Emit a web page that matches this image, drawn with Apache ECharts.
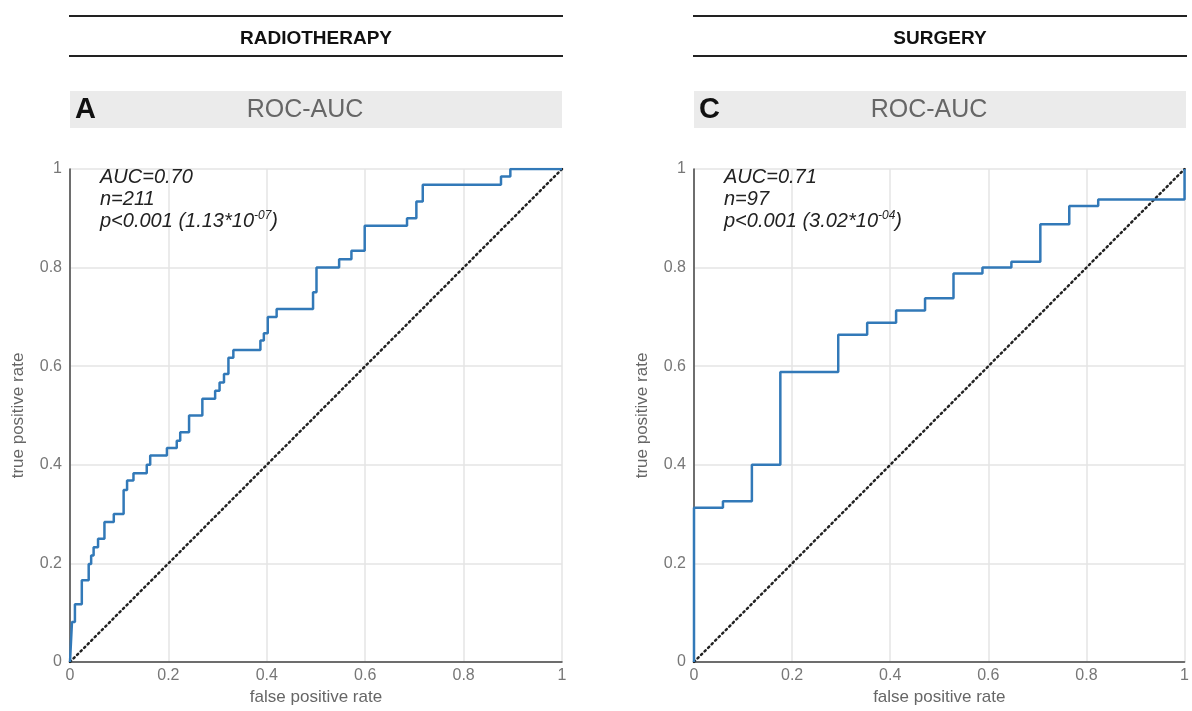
<!DOCTYPE html>
<html lang="en">
<head>
    <meta charset="UTF-8">
    <title>ROC-AUC</title>
    <style>
        html, body { margin: 0; padding: 0; background: #fff; }
        #container { width: 1192px; height: 711px; }
    </style>
</head>
<body>
    <div id="container"></div>
    <script src="https://cdn.jsdelivr.net/npm/echarts@6/dist/echarts.min.js"></script>
    <script>
        // ROC points (false positive rate / true positive rate)
        const radioFpr = [0, 0.004, 0.010, 0.024, 0.038, 0.043, 0.048, 0.057, 0.070, 0.089, 0.109, 0.116, 0.129, 0.156, 0.163, 0.197, 0.217, 0.224, 0.242, 0.269, 0.295, 0.304, 0.313, 0.322, 0.332, 0.387, 0.394, 0.402, 0.420, 0.494, 0.501, 0.547, 0.572, 0.599, 0.685, 0.704, 0.717, 0.876, 0.895, 1.0];
        const radioTpr = [0, 0.081, 0.117, 0.166, 0.199, 0.216, 0.233, 0.250, 0.284, 0.300, 0.349, 0.368, 0.383, 0.400, 0.419, 0.434, 0.449, 0.466, 0.500, 0.534, 0.550, 0.567, 0.584, 0.617, 0.633, 0.652, 0.667, 0.700, 0.716, 0.750, 0.800, 0.817, 0.834, 0.885, 0.900, 0.934, 0.968, 0.985, 1.0, 1.0];

        const surgFpr = [0, 0, 0.059, 0.118, 0.176, 0.294, 0.353, 0.412, 0.471, 0.529, 0.588, 0.647, 0.706, 0.765, 0.824, 1.0, 1.0];
        const surgTpr = [0, 0.313, 0.326, 0.400, 0.588, 0.664, 0.688, 0.713, 0.738, 0.788, 0.800, 0.812, 0.888, 0.925, 0.938, 0.938, 1.0];

        const chance = [[0, 0], [1, 1]];

        const panels = ['RADIOTHERAPY', 'SURGERY'];
        const letters = ['A', 'C'];
        const aucText = ['AUC=0.70', 'AUC=0.71'];
        const nText = ['n=211', 'n=97'];
        const pBase = ['1.13', '3.02'];
        const pExp = ['-07', '-04'];

        const FONT = '"Liberation Sans", Arial, Helvetica, sans-serif';
        const gridLeft = [70, 694];
        const gridW = 492;
        const gridTop = 169;
        const gridH = 493;

        function pairs(xs, ys) {
            return xs.map((x, i) => [x, ys[i]]);
        }

        function axisCommon(name, isY) {
            return {
                type: 'value',
                min: 0, max: 1, interval: 0.2,
                name: name,
                nameLocation: 'middle',
                nameGap: isY ? 43 : 24,
                nameTextStyle: { color: '#666', fontSize: 17, fontFamily: FONT },
                axisLine: { show: true, lineStyle: { color: '#444', width: 1.5 } },
                axisTick: { show: false },
                axisLabel: {
                    color: '#777', fontSize: 16, fontFamily: FONT, margin: isY ? 8 : 6,
                    formatter: v => String(Math.round(v * 10) / 10)
                },
                splitLine: { show: true, lineStyle: { color: '#e5e5e5', width: 1.5 } }
            };
        }

        const grids = [], xAxes = [], yAxes = [], series = [], graphics = [];
        const curves = [pairs(radioFpr, radioTpr), pairs(surgFpr, surgTpr)];

        for (let k = 0; k < 2; k++) {
            const L = gridLeft[k];
            grids.push({ left: L, top: gridTop, width: gridW, height: gridH });
            xAxes.push(Object.assign(axisCommon('false positive rate', false), { gridIndex: k }));
            yAxes.push(Object.assign(axisCommon('true positive rate', true), { gridIndex: k }));

            series.push({
                type: 'line', xAxisIndex: k, yAxisIndex: k,
                data: chance, symbol: 'none', silent: true,
                lineStyle: { color: '#222', width: 2.5, type: [1.5, 3.5], cap: 'round' }
            });
            series.push({
                type: 'line', xAxisIndex: k, yAxisIndex: k,
                data: curves[k], step: 'end', symbol: 'none',
                lineStyle: { color: '#3279b8', width: 2.5 }
            });

            // header lines and title
            graphics.push({ type: 'line', shape: { x1: L - 1, y1: 16, x2: L + gridW + 1, y2: 16 }, style: { stroke: '#222', lineWidth: 2 } });
            graphics.push({ type: 'line', shape: { x1: L - 1, y1: 56, x2: L + gridW + 1, y2: 56 }, style: { stroke: '#222', lineWidth: 2 } });
            graphics.push({
                type: 'text', x: L + gridW / 2, y: 39,
                style: { text: panels[k], font: 'bold 19px ' + FONT, fill: '#111', align: 'center', verticalAlign: 'middle' }
            });

            // grey panel bar
            graphics.push({ type: 'rect', shape: { x: L, y: 91, width: gridW, height: 37 }, style: { fill: '#ebebeb' } });
            graphics.push({
                type: 'text', x: L + 5, y: 110,
                style: { text: letters[k], font: 'bold 29px ' + FONT, fill: '#111', align: 'left', verticalAlign: 'middle' }
            });
            graphics.push({
                type: 'text', x: L + 235, y: 110,
                style: { text: 'ROC-AUC', font: '25px ' + FONT, fill: '#666', align: 'center', verticalAlign: 'middle' }
            });

            // annotation
            graphics.push({
                type: 'text', x: L + 30, y: 166, z: 10,
                style: {
                    text: '{i|' + aucText[k] + '}\n{i|' + nText[k] + '}\n{i|p<0.001 (' + pBase[k] + '*10}{s|' + pExp[k] + '}{i|)}',
                    fill: '#222',
                    rich: {
                        i: { fontSize: 20, fontStyle: 'italic', fontFamily: FONT, lineHeight: 22, fill: '#222', color: '#222' },
                        s: { fontSize: 12, fontStyle: 'italic', fontFamily: FONT, lineHeight: 12, verticalAlign: 'top', fill: '#222', color: '#222' }
                    }
                }
            });
        }

        const chart = echarts.init(document.getElementById('container'));
        chart.setOption({
            animation: false,
            backgroundColor: '#fff',
            grid: grids,
            xAxis: xAxes,
            yAxis: yAxes,
            series: series,
            graphic: graphics
        });
    </script>
</body>
</html>
